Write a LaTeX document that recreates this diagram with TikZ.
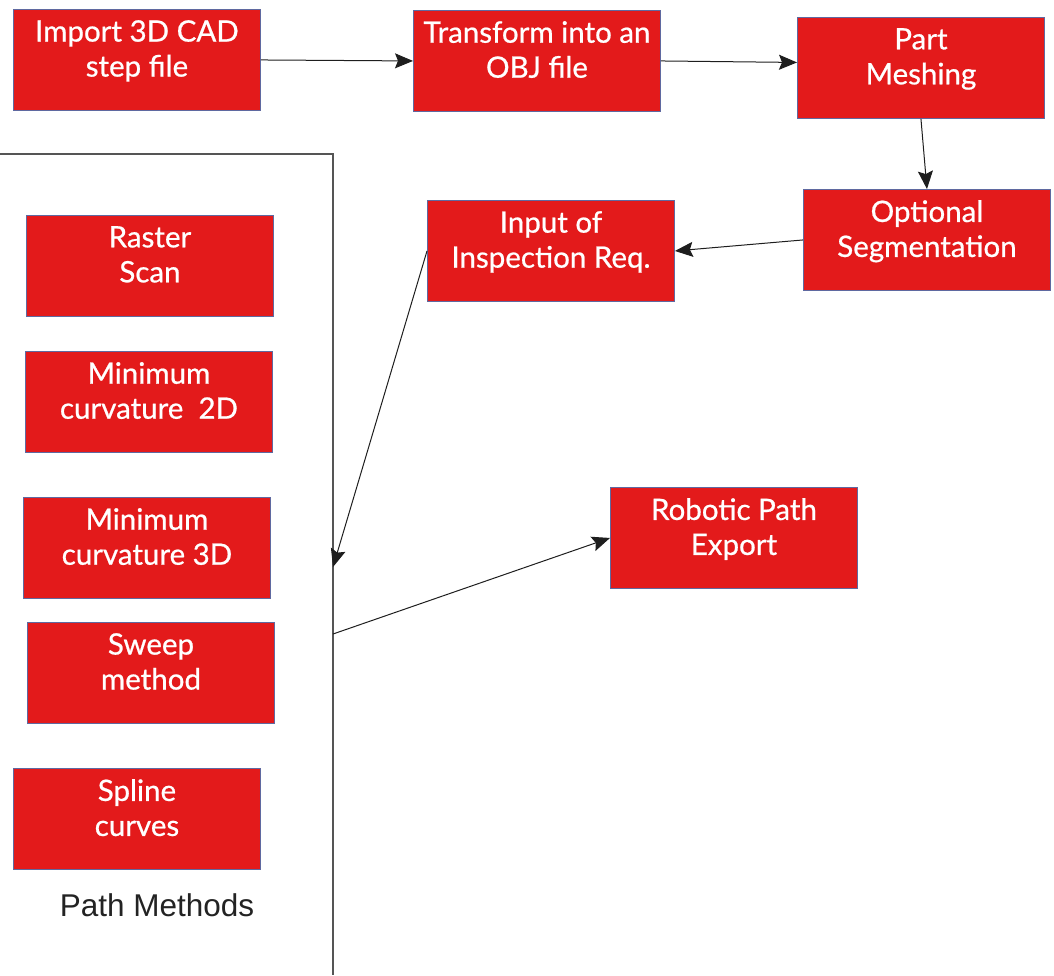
\documentclass[tikz,border=0pt]{standalone}
\usepackage{fontspec}
\setmainfont{Lato}
\newfontfamily\boxfont{Lato}[FakeBold=0.7]
\newfontfamily\captionfont{Liberation Sans}
\usetikzlibrary{arrows.meta}
\definecolor{boxred}{RGB}{227,26,27}
\definecolor{boxedge}{RGB}{95,105,160}
\definecolor{linkgray}{RGB}{30,30,30}
\definecolor{framegray}{RGB}{85,85,85}
\tikzset{
  stepbox/.style={rectangle, fill=boxred, draw=boxedge, line width=0.9pt,
    minimum width=247pt, minimum height=101pt, inner sep=0pt, anchor=north west},
  boxtext/.style={text=white, font=\boxfont\fontsize{29.5}{35}\selectfont, align=center,
    anchor=north, inner sep=0pt, yshift=-11pt},
  link/.style={draw=linkgray, line width=1pt,
    -{Stealth[length=18pt, width=15pt, inset=3pt]}}
}
\begin{document}
\begin{tikzpicture}[x=1pt, y=-1pt]
\useasboundingbox (0,0) rectangle (1054,975);

% main process chain
\node[stepbox, label={[boxtext]north:Import 3D CAD\\step file}] (imp) at (13,9) {};
\node[stepbox, label={[boxtext]north:Transform into an\\OBJ file}] (obj) at (413,10) {};
\node[stepbox, label={[boxtext]north:Part\\Meshing}] (mesh) at (797,17) {};
\node[stepbox, label={[boxtext]north:Optional\\Segmentation}] (seg) at (803,189) {};
\node[stepbox, label={[boxtext]north:Input of\\Inspection Req.}] (inp) at (427,200) {};
\node[stepbox, label={[boxtext]north:Robotic Path\\Export}] (exp) at (610,487) {};

% path method group
\draw[framegray, line width=1.2pt] (0,154) -- (333,154) -- (333,975);
\coordinate (grpin) at (333,567);
\coordinate (grpout) at (333,634);
\node[stepbox, label={[boxtext]north:Raster\\Scan}] (raster) at (26,215) {};
\node[stepbox, label={[boxtext]north:Minimum\\curvature~~2D}] (mc2) at (25,351) {};
\node[stepbox, label={[boxtext]north:Minimum\\curvature 3D}] (mc3) at (23,497) {};
\node[stepbox, label={[boxtext]north:Sweep\\method}] (sweep) at (27,622) {};
\node[stepbox, label={[boxtext]north:Spline\\curves}] (spline) at (13,768) {};
\node[text={rgb,255:red,35;green,35;blue,35}, font=\captionfont\fontsize{31.5}{36}\selectfont,
  anchor=base] (pm) at (157,916) {Path Methods};

% connectors
\draw[link] (imp.east) -- (obj.west);
\draw[link] (obj.east) -- ([yshift=5.5pt]mesh.west);
\draw[link] (mesh.south) -- (seg.north);
\draw[link] (seg.west) -- (inp.east);
\draw[link] (inp.west) -- (grpin);
\draw[link] (grpout) -- (exp.west);
\end{tikzpicture}
\end{document}
